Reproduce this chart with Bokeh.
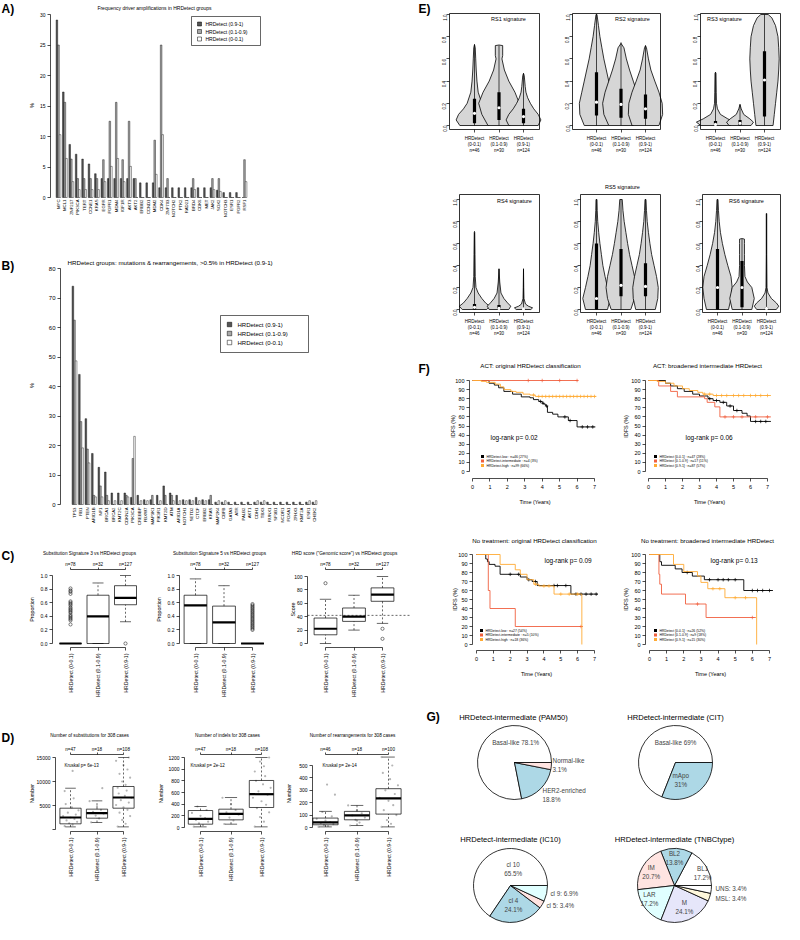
import math
from bokeh.plotting import figure
from bokeh.layouts import row, column
from bokeh.models import Range1d, FixedTicker, Label, PrintfTickFormatter, LinearAxis
from bokeh.embed import file_html
from bokeh.resources import INLINE

FONT = "Liberation Sans"

# ======================= DATA =======================
hr_legend = ["HRDetect (0.9-1)", "HRDetect (0.1-0.9)", "HRDetect (0-0.1)"]

# Panel A: driver amplifications (% of cases)
amp_genes = ["MYC", "MCL1", "ZNF217", "PIK3CA", "TERT", "CCNE1", "KRAS", "EGFR",
             "FGFR1", "MDM4", "IGF1R", "AKT3", "AKT2", "ERBB2", "CCND1", "MDM2",
             "CDK4", "ZNF703", "NOTCH2", "PTK2", "RAD21", "BRD4", "CDK6", "MET",
             "JAK2", "SOX2", "NOTCH3", "ESR1", "FGFR2", "RSF1"]
amp_high = [29.1, 17.3, 8.7, 7.1, 6.3, 5.5, 3.9, 3.1, 3.1, 3.1, 3.1, 3.1, 3.1, 2.4, 2.4,
            2.4, 1.6, 1.6, 1.6, 1.6, 1.6, 1.6, 1.6, 1.6, 1.6, 1.2, 0.8, 0.8, 0.8, 0.0]
amp_mid = [25.0, 15.6, 6.3, 3.1, 3.1, 3.1, 3.1, 6.2, 12.5, 15.6, 6.2, 12.5, 3.1, 0, 0,
           9.4, 25.0, 3.1, 0, 0, 0, 3.1, 0, 0, 3.1, 3.1, 0, 0, 0, 6.2]
amp_low = [10.3, 6.4, 2.6, 1.3, 1.3, 1.3, 1.3, 2.6, 5.1, 6.4, 2.6, 5.1, 0, 0, 0,
           3.8, 10.3, 0, 0, 0, 0, 1.3, 0, 0, 1.3, 1.0, 0, 0, 0, 2.6]
a_yticks = [0, 5, 10, 15, 20, 25, 30]

# Panel B: mutations & rearrangements (% of cases)
mut_genes = ["TP53", "RB1", "PTEN", "ARID1B", "NF1", "BRCA1", "BRCA2", "KMT2C", "CDKN2A",
             "PIK3CA", "CREBBP", "FBXW7", "MAP3K1", "PIK3R1", "KMT2D", "ATM", "ARID1A",
             "NOTCH1", "SETD2", "CTCF", "ERBB2", "KRAS", "MAP2K4", "CBFB", "GATA3", "ATR",
             "PALB2", "AKT1", "CDH1", "TBX3", "RUNX1", "SF3B1", "NCOR1", "FOXA1", "ZFHX3",
             "KMT2A", "ESR1", "CHEK2"]
mut_high = [74.0, 44.1, 29.1, 17.3, 12.6, 11.0, 3.9, 3.9, 3.9, 2.4,
            3.1, 1.6, 1.6, 3.1, 6.3, 3.9, 3.1, 1.6, 1.6, 2.4,
            1.6, 1.6, 0.8, 0.8, 0.8, 0.8, 0.8, 0.8, 0.8, 0.8,
            0.8, 0.8, 0.8, 0.8, 0.8, 0.8, 0.8, 0.8]
mut_mid = [62.5, 28.1, 18.8, 3.1, 6.3, 3.1, 0, 0, 3.1, 15.6,
           0, 0, 3.1, 0, 3.1, 3.1, 0, 0, 0, 0,
           0, 3.1, 0, 0, 0, 0, 0, 0, 0, 0,
           0, 0, 0, 0, 0, 0, 0, 0]
mut_low = [48.7, 19.2, 14.1, 2.6, 2.6, 1.3, 1.3, 1.3, 2.6, 23.1,
           1.3, 1.3, 0, 1.3, 0, 1.3, 1.3, 1.3, 1.3, 1.3,
           1.3, 0, 1.3, 1.3, 0, 0, 0, 0, 1.3, 1.3,
           0, 0, 0, 0, 0, 0, 1.3, 1.3]
b_yticks = [0, 10, 20, 30, 40, 50, 60, 70, 80]

# Panels C/D: box plots per HRDetect group
box_groups = ["HRDetect (0-0.1)", "HRDetect (0.1-0.9)", "HRDetect (0.9-1)"]
c_counts = ["n=78", "n=32", "n=127"]
c_titles = ["Substitution Signature 3 vs HRDetect groups",
            "Substitution Signature 5 vs HRDetect groups",
            "HRD score (\"Genomic score\") vs HRDetect groups"]
c_ylabels = ["Proportion", "Proportion", "Score"]
prop_ticks = [0.0, 0.2, 0.4, 0.6, 0.8, 1.0]
score_ticks = [0, 20, 40, 60, 80, 100]
sig3_q1 = [0.0, 0.0, 0.57]
sig3_med = [0.0, 0.40, 0.67]
sig3_q3 = [0.0, 0.71, 0.85]
sig3_lo = [0.0, 0.0, 0.32]
sig3_hi = [0.0, 0.89, 1.0]
sig3_out_g = [1] * 19 + [3]
sig3_out_v = [0.81, 0.78, 0.76, 0.73, 0.62, 0.60, 0.58, 0.56, 0.53, 0.51, 0.49, 0.47,
              0.45, 0.42, 0.40, 0.38, 0.36, 0.34, 0.28, 0.0]
sig5_q1 = [0.0, 0.0, 0.0]
sig5_med = [0.56, 0.31, 0.0]
sig5_q3 = [0.71, 0.55, 0.0]
sig5_lo = [0.0, 0.0, 0.0]
sig5_hi = [0.95, 0.85, 0.0]
sig5_out_g = [3] * 20
sig5_out_v = [0.58, 0.56, 0.54, 0.52, 0.50, 0.48, 0.46, 0.44, 0.42, 0.40, 0.38, 0.36,
              0.34, 0.32, 0.30, 0.28, 0.26, 0.24, 0.22, 0.20]
hrd_q1 = [13, 33, 63]
hrd_med = [22, 40, 73]
hrd_q3 = [38, 53, 83]
hrd_lo = [0, 20, 30]
hrd_hi = [66, 72, 100]
hrd_out_g = [1, 3, 3]
hrd_out_v = [90, 22, 7]
hrd_cutoff = 42

d_counts = [["n=47", "n=18", "n=108"], ["n=47", "n=18", "n=108"], ["n=46", "n=18", "n=100"]]
d_titles = ["Number of substitutions for 308 cases", "Number of indels for 308 cases",
            "Number of rearrangements for 308 cases"]
d_pvals = ["Kruskal p= 6e-13", "Kruskal p= 2e-12", "Kruskal p= 2e-14"]
d_ticks = [[0, 5000, 10000, 15000], [0, 200, 400, 600, 800, 1000, 1200], [0, 100, 200, 300, 400, 500]]
d_tick_labels = [["", "5000", "10000", "15000"], ["0", "200", "400", "600", "800", "1000", "1200"],
                 ["0", "100", "200", "300", "400", "500"]]
subs_q1 = [1180, 2360, 4440]
subs_med = [2500, 3400, 6670]
subs_q3 = [4440, 4240, 8960]
subs_lo = [550, 1460, 550]
subs_hi = [8600, 5970, 15000]
subs_pts = [[700, 1000, 1300, 1600, 1900, 2200, 2500, 2800, 3100, 3500, 4000, 4600, 5300, 6500, 8000, 12200],
            [1500, 2300, 2900, 3300, 3700, 4100, 4800, 5900, 8600],
            [600, 1200, 2000, 2800, 3500, 4100, 4600, 5100, 5600, 6100, 6600, 7000, 7500, 8100, 8700,
             9300, 10000, 10800, 11600, 12500, 13400, 14300, 15000]]
indel_q1 = [57, 131, 343]
indel_med = [149, 234, 571]
indel_q3 = [291, 314, 806]
indel_lo = [11, 57, 11]
indel_hi = [360, 514, 1200]
indel_pts = [[15, 40, 70, 100, 130, 160, 200, 250, 300, 360],
             [60, 120, 170, 220, 260, 300, 400, 510],
             [15, 100, 180, 260, 330, 390, 450, 510, 560, 620, 680, 740, 800, 880, 960, 1050, 1130, 1200]]
rearr_q1 = [22, 62, 108]
rearr_med = [41, 97, 235]
rearr_q3 = [76, 130, 313]
rearr_lo = [5, 16, 5]
rearr_hi = [130, 178, 568]
rearr_pts = [[5, 12, 20, 28, 36, 44, 55, 70, 90, 125, 265, 346],
             [16, 40, 62, 80, 97, 115, 140, 178],
             [5, 30, 60, 100, 140, 180, 215, 240, 270, 300, 340, 390, 440, 500, 568]]

# Panel E: violin plots of rearrangement signatures
e_titles = ["RS1 signature", "RS2 signature", "RS3 signature",
            "RS4 signature", "RS5 signature", "RS6 signature"]
e_xlabels = ["HRDetect\n(0-0.1)\nn=46", "HRDetect\n(0.1-0.9)\nn=30", "HRDetect\n(0.9-1)\nn=124"]
grid11 = [0, 0.1, 0.2, 0.3, 0.4, 0.5, 0.6, 0.7, 0.8, 0.9, 1.0]
rs1_y = [[0, 0.05, 0.1, 0.15, 0.2, 0.3, 0.4, 0.5, 0.6, 0.7, 0.73],
         [0, 0.1, 0.2, 0.3, 0.4, 0.5, 0.6, 0.63, 0.72, 0.725],
         [0, 0.05, 0.1, 0.15, 0.2, 0.25, 0.3, 0.35, 0.45, 0.47]]
rs1_w = [[0.6, 0.75, 0.65, 0.45, 0.3, 0.15, 0.1, 0.07, 0.05, 0.03, 0],
         [0.45, 0.7, 0.83, 0.65, 0.4, 0.22, 0.12, 0.15, 0.15, 0],
         [0.6, 0.71, 0.6, 0.42, 0.28, 0.17, 0.1, 0.07, 0.03, 0]]
rs1_stats = dict(q1=[0.02, 0.05, 0.02], med=[0.11, 0.16, 0.08], q3=[0.24, 0.30, 0.15], hi=[0.73, 0.72, 0.47])
rs2_y = [grid11, [0, 0.1, 0.2, 0.3, 0.4, 0.5, 0.6, 0.7, 0.74], [0, 0.1, 0.2, 0.3, 0.4, 0.5, 0.6, 0.7, 0.72]]
rs2_w = [[0.5, 0.68, 0.7, 0.6, 0.5, 0.4, 0.3, 0.22, 0.14, 0.08, 0.02],
         [0.5, 0.7, 0.75, 0.65, 0.5, 0.35, 0.22, 0.12, 0],
         [0.55, 0.7, 0.68, 0.55, 0.38, 0.22, 0.12, 0.04, 0]]
rs2_stats = dict(q1=[0.09, 0.07, 0.06], med=[0.21, 0.19, 0.15], q3=[0.48, 0.33, 0.28], hi=[1.0, 0.75, 0.72])
rs3_y = [[0, 0.03, 0.06, 0.1, 0.15, 0.2, 0.3, 0.47, 0.48],
         [0, 0.03, 0.06, 0.1, 0.15, 0.19],
         [0, 0.1, 0.2, 0.3, 0.4, 0.5, 0.6, 0.7, 0.8, 0.9, 0.97, 1.0]]
rs3_w = [[0.6, 0.78, 0.5, 0.2, 0.08, 0.04, 0.03, 0.02, 0],
         [0.45, 0.55, 0.4, 0.15, 0.05, 0],
         [0.35, 0.4, 0.45, 0.5, 0.55, 0.58, 0.6, 0.58, 0.55, 0.45, 0.3, 0.15]]
rs3_stats = dict(q1=[0.0, 0.0, 0.08], med=[0.01, 0.02, 0.41], q3=[0.04, 0.05, 0.67], hi=[0.48, 0.19, 1.0])
rs4_y = [[0, 0.03, 0.06, 0.1, 0.15, 0.2, 0.3, 0.5, 0.7, 0.71],
         [0, 0.03, 0.06, 0.1, 0.15, 0.25, 0.37],
         [0, 0.015, 0.03, 0.05, 0.1, 0.2, 0.37]]
rs4_w = [[0.5, 0.62, 0.45, 0.3, 0.15, 0.06, 0.03, 0.02, 0.01, 0],
         [0.4, 0.48, 0.35, 0.2, 0.08, 0.03, 0],
         [0.3, 0.37, 0.2, 0.08, 0.02, 0.01, 0]]
rs4_stats = dict(q1=[0.0, 0.0, 0.0], med=[0.02, 0.01, 0.005], q3=[0.05, 0.04, 0.01], hi=[0.7, 0.37, 0.37])
rs5_y = [grid11, grid11, grid11]
rs5_w = [[0.45, 0.56, 0.45, 0.35, 0.26, 0.2, 0.14, 0.09, 0.05, 0.03, 0.02],
         [0.4, 0.55, 0.61, 0.55, 0.45, 0.35, 0.27, 0.2, 0.13, 0.08, 0.05],
         [0.4, 0.5, 0.52, 0.45, 0.35, 0.25, 0.18, 0.12, 0.07, 0.04, 0.02]]
rs5_stats = dict(q1=[0.0, 0.12, 0.12], med=[0.1, 0.22, 0.21], q3=[0.6, 0.55, 0.42], hi=[1.0, 1.0, 1.0])
rs6_y = [grid11, [0, 0.1, 0.2, 0.25, 0.3, 0.4, 0.5, 0.6, 0.64, 0.645],
         [0, 0.03, 0.06, 0.1, 0.15, 0.2, 0.5, 0.87, 0.875]]
rs6_w = [[0.45, 0.55, 0.6, 0.55, 0.42, 0.3, 0.2, 0.12, 0.07, 0.04, 0.02],
         [0.4, 0.5, 0.4, 0.22, 0.12, 0.1, 0.1, 0.1, 0.1, 0],
         [0.4, 0.5, 0.4, 0.2, 0.06, 0.02, 0.01, 0.01, 0]]
rs6_stats = dict(q1=[0.0, 0.02, 0.0], med=[0.2, 0.2, 0.01], q3=[0.55, 0.44, 0.02], hi=[1.0, 0.64, 0.87])

# Panel F: Kaplan-Meier IDFS curves
km_years = [0, 1, 2, 3, 4, 5, 6, 7]
km_pct = [0, 10, 20, 30, 40, 50, 60, 70, 80, 90, 100]
f_titles = ["ACT: original HRDetect classification", "ACT: broadened intermediate HRDetect",
            "No treatment: original HRDetect classification", "No treatment: broadened intermediate HRDetect"]
f_pvals = ["log-rank p= 0.02", "log-rank p= 0.06", "log-rank p= 0.09", "log-rank p= 0.13"]
f_legends = [["HRDetect-low : n=46 (27%)", "HRDetect-intermediate : n=4 (3%)", "HRDetect-high : n=99 (66%)"],
             ["HRDetect [0-0.1] : n=47 (28%)", "HRDetect [0.1-0.9] : n=17 (11%)", "HRDetect [0.9-1] : n=87 (57%)"],
             ["HRDetect-low : n=27 (54%)", "HRDetect-intermediate : n=5 (10%)", "HRDetect-high : n=18 (36%)"],
             ["HRDetect [0-0.1] : n=26 (52%)", "HRDetect [0.1-0.9] : n=9 (18%)", "HRDetect [0.9-1] : n=15 (30%)"]]
f1_low_t = [0, 0.95, 1.25, 1.5, 1.8, 2.3, 2.8, 3.3, 3.5, 3.8, 4.0, 4.1, 4.2, 4.3, 4.6, 4.9, 5.5, 6.0, 7.05]
f1_low_s = [100, 97, 95, 92, 88, 85, 82, 81, 79, 77, 75, 74, 72, 65, 63, 60, 56, 49, 49]
f1_low_c = [3.9, 4.05, 4.25, 5.3, 5.6, 6.3, 6.6, 6.9]
f1_mid_t = [0, 6.05]
f1_mid_s = [100, 100]
f1_mid_c = [3.2, 4.0, 5.0, 6.0]
f1_high_t = [0, 0.5, 0.8, 1.3, 1.6, 1.8, 2.2, 2.5, 2.9, 3.3, 3.6, 7.1]
f1_high_s = [100, 99, 98, 96, 93, 90, 88, 87, 85, 84, 82.5, 82.5]
f1_high_c = [3.5, 3.8, 4.0, 4.2, 4.4, 4.6, 4.8, 5.0, 5.2, 5.4, 5.6, 5.8, 6.0, 6.2, 6.4, 6.6, 6.8, 7.0]
f2_low_t = [0, 1.0, 1.3, 1.7, 2.1, 2.6, 3.0, 3.5, 3.8, 4.2, 4.6, 5.0, 5.5, 5.8, 6.0, 7.2]
f2_low_s = [100, 97, 94, 91, 88, 85, 83, 80, 78, 76, 72, 67, 64, 61, 55, 55]
f2_low_c = [3.6, 4.0, 4.4, 4.8, 5.2, 6.3, 6.6, 6.9]
f2_mid_t = [0, 0.6, 1.3, 1.7, 3.3, 3.45, 3.9, 4.2, 7.2]
f2_mid_s = [100, 94, 88, 82, 80, 76, 71, 60, 60]
f2_mid_c = [4.5, 5.0, 5.5, 6.3, 7.0]
f2_high_t = [0, 0.5, 1.0, 1.5, 2.0, 2.4, 2.9, 3.2, 3.8, 7.2]
f2_high_s = [100, 99, 97, 94, 91, 89, 87, 85, 83.5, 83.5]
f2_high_c = [3.3, 3.6, 4.0, 4.3, 4.6, 5.0, 5.3, 5.6, 6.0, 6.3, 6.6, 7.0]
f3_low_t = [0, 0.55, 0.65, 0.75, 1.1, 1.4, 2.6, 3.0, 3.3, 3.6, 5.6, 7.2]
f3_low_s = [100, 95, 92, 89, 87, 78, 75, 72, 70, 65.5, 56, 56]
f3_low_c = [2.0, 2.5, 3.1, 3.5, 4.6, 4.8, 5.3, 5.9, 6.2, 6.5, 6.8, 7.1]
f3_mid_t = [0, 0.7, 0.8, 2.3, 6.3]
f3_mid_s = [100, 60, 40, 20, 20]
f3_mid_c = [6.2]
f3_high_t = [0, 1.4, 2.3, 2.6, 3.0, 3.4, 3.7, 4.6, 6.25]
f3_high_s = [100, 89, 83, 78, 72, 67, 65, 56, 0]
f3_high_c = [3.5, 4.0, 4.3, 5.0, 5.5, 6.0]
f4_low_t = [0, 0.6, 0.7, 1.5, 1.9, 2.5, 3.2, 5.5, 7.2]
f4_low_s = [100, 92, 88, 84, 80, 76, 72, 60, 60]
f4_low_c = [2.2, 3.5, 4.0, 4.3, 4.6, 5.0, 6.0, 6.3, 6.6, 7.0]
f4_mid_t = [0, 0.55, 0.6, 0.7, 2.1, 3.3, 6.2]
f4_mid_s = [100, 78, 67, 56, 45, 30, 30]
f4_mid_c = [2.8, 6.0]
f4_high_t = [0, 1.4, 2.0, 2.8, 3.0, 3.4, 4.4, 6.25]
f4_high_s = [100, 89, 81, 76, 69, 62, 52, 0]
f4_high_c = [3.7, 4.1, 5.0, 5.6]

# Panel G: subtype pies for HRDetect-intermediate
g_titles = ["HRDetect-intermediate (PAM50)", "HRDetect-intermediate (CIT)",
            "HRDetect-intermediate (IC10)", "HRDetect-intermediate (TNBCtype)"]
pam50_names = ["Basal-like", "HER2-enriched", "Normal-like"]
pam50_pct = [78.1, 18.8, 3.1]
cit_names = ["Basal-like", "mApo"]
cit_pct = [69, 31]
ic10_names = ["cl 10", "cl 4", "cl 5", "cl 9"]
ic10_pct = [65.5, 24.1, 3.4, 6.9]
tnbc_names = ["BL1", "BL2", "IM", "LAR", "M", "MSL", "UNS"]
tnbc_pct = [17.2, 13.8, 20.7, 17.2, 24.1, 3.4, 3.4]

# ======================= STYLE / LAYOUT =======================
BAR_COLS = ["#555555", "#a8a8a8", "#ffffff"]
KM_COLS = ["#000000", "#f0603f", "#ffaa33"]
PIE_COLS = ["white", "lightblue", "mistyrose", "lightcyan", "lavender", "cornsilk"]
JITTER = [-0.22, 0.08, -0.05, 0.25, -0.15, 0.15, 0.0, -0.28, 0.2, -0.1, 0.3, 0.05, -0.18, 0.12]


def rng(v0, p0, v1, p1, f0, f1):
    s = (p1 - p0) / (v1 - v0)
    a = v0 + (f0 - p0) / s
    b = v0 + (f1 - p0) / s
    return (min(a, b), max(a, b))


class Panel:
    """A figure whose frame fills its whole canvas; axes are placed with fixed_location."""

    def __init__(self, fig_box, plot_box, xr, yr):
        fx0, fy0, fx1, fy1 = fig_box
        bx0, by0, bx1, by1 = plot_box
        self.fx0, self.fy0 = fx0, fy0
        self.box = plot_box
        self.sx = (xr[1] - xr[0]) / (bx1 - bx0)
        self.sy = (yr[1] - yr[0]) / (by1 - by0)
        self.x0 = xr[0] - (bx0 - fx0) * self.sx
        self.y0 = yr[1] + (by0 - fy0) * self.sy
        p = figure(width=fx1 - fx0, height=fy1 - fy0,
                   x_range=Range1d(self.X(fx0), self.X(fx1)),
                   y_range=Range1d(self.Y(fy1), self.Y(fy0)),
                   min_border=0, min_border_left=0, min_border_right=0,
                   min_border_top=0, min_border_bottom=0,
                   x_axis_location=None, y_axis_location=None,
                   output_backend="svg", toolbar_location=None, tools="", title=None)
        p.grid.visible = False
        p.xgrid.grid_line_color = None
        p.ygrid.grid_line_color = None
        p.outline_line_color = None
        p.border_fill_color = None
        p.background_fill_color = None
        self.p = p

    def X(self, px):
        return self.x0 + (px - self.fx0) * self.sx

    def Y(self, py):
        return self.y0 - (py - self.fy0) * self.sy

    def axis(self, side, at_px):
        loc = self.X(at_px) if side in ("left", "right") else self.Y(at_px)
        ax = LinearAxis(fixed_location=loc)
        self.p.add_layout(ax, side)
        return ax

    def text(self, px, py, s, fs, align="left", base="middle", angle=0.0, bold=False, color="black"):
        self.p.add_layout(Label(x=self.X(px), y=self.Y(py), text=s, text_font=FONT,
                                text_font_size=f"{fs}px", text_align=align, text_baseline=base,
                                angle=angle, text_font_style="bold" if bold else "normal",
                                text_color=color))


def style_axis(ax, fs, tick_out=3, standoff=2, bounds=None, line=True, orient=None,
               ticks=None, labels=None, fmt=None):
    ax.axis_line_color = "black" if line else None
    ax.axis_line_width = 0.7
    ax.major_tick_line_color = "black" if line else None
    ax.major_tick_line_width = 0.7
    ax.major_tick_in = 0
    ax.major_tick_out = int(tick_out) if line else 0
    ax.minor_tick_line_color = None
    ax.major_label_text_font = FONT
    ax.major_label_text_font_size = f"{fs}px"
    ax.major_label_text_color = "black"
    ax.major_label_standoff = int(standoff)
    if bounds is not None:
        ax.bounds = bounds
    if orient is not None:
        ax.major_label_orientation = orient
    if ticks is not None:
        ax.ticker = FixedTicker(ticks=list(ticks))
    if labels is not None:
        ax.major_label_overrides = dict(zip(ticks, labels))
    if fmt is not None:
        ax.formatter = PrintfTickFormatter(format=fmt)


def grouped_bars(P, genes, series, yticks, y_fs):
    n = len(genes)
    for j, vals in enumerate(series):
        P.p.vbar(x=[4 * i + 1.5 + j for i in range(n)], top=vals, bottom=0, width=1,
                 fill_color=BAR_COLS[j], line_color="black", line_width=0.4)
    centers = [4 * i + 2.5 for i in range(n)]
    bx0, by0, bx1, by1 = P.box
    style_axis(P.axis("below", by1), 4.3, line=False, orient=math.pi / 2, standoff=2,
               ticks=centers, labels=genes)
    style_axis(P.axis("left", bx0), y_fs, bounds=(yticks[0], yticks[-1]), ticks=yticks)


def legend_box(P, box, labels, ys, sq_x, txt_x, sq, fs):
    x0, y0, x1, y1 = box
    P.p.quad(left=[P.X(x0)], right=[P.X(x1)], bottom=[P.Y(y1)], top=[P.Y(y0)],
             fill_color="white", line_color="black", line_width=0.6)
    P.p.quad(left=[P.X(sq_x - sq / 2)] * 3, right=[P.X(sq_x + sq / 2)] * 3,
             bottom=[P.Y(y + sq / 2) for y in ys], top=[P.Y(y - sq / 2) for y in ys],
             fill_color=BAR_COLS, line_color="black", line_width=0.5)
    for lab, y in zip(labels, ys):
        P.text(txt_x, y, lab, fs)


def boxplot(P, q1, med, q3, lo, hi, out_g, out_v, w=0.8, pt_size=3.2):
    xs = [i + 1 for i in range(len(q1))]
    p = P.p
    p.segment(x0=xs, y0=q3, x1=xs, y1=hi, line_color="black", line_width=0.6, line_dash="2 2")
    p.segment(x0=xs, y0=lo, x1=xs, y1=q1, line_color="black", line_width=0.6, line_dash="2 2")
    p.segment(x0=[x - w / 4 for x in xs], y0=hi, x1=[x + w / 4 for x in xs], y1=hi,
              line_color="black", line_width=0.6)
    p.segment(x0=[x - w / 4 for x in xs], y0=lo, x1=[x + w / 4 for x in xs], y1=lo,
              line_color="black", line_width=0.6)
    p.quad(left=[x - w / 2 for x in xs], right=[x + w / 2 for x in xs], bottom=q1, top=q3,
           fill_color="white", fill_alpha=0.0, line_color="black", line_width=0.7)
    p.segment(x0=[x - w / 2 for x in xs], y0=med, x1=[x + w / 2 for x in xs], y1=med,
              line_color="black", line_width=2.2)
    if out_g:
        p.scatter(x=out_g, y=out_v, marker="circle", size=pt_size, fill_color=None,
                  line_color="black", line_width=0.5)


def jitter_points(P, groups):
    xs, ys = [], []
    for g, vals in enumerate(groups):
        for k, v in enumerate(vals):
            xs.append(g + 1 + JITTER[k % len(JITTER)])
            ys.append(v)
    P.p.scatter(x=xs, y=ys, marker="circle", size=2.2, fill_color="#b5b5b5", line_color=None)


def box_panel(fig_box, plot_box, c1px, c3px, v_top, p_top, p_zero, ticks, fmt, counts, tlabels=None):
    px0, py0, px1, py1 = plot_box
    P = Panel(fig_box, plot_box, rng(1, c1px, 3, c3px, px0, px1),
              rng(0, p_zero, v_top, p_top, py0, py1))
    style_axis(P.axis("left", px0), 5, bounds=(0, v_top), ticks=ticks, fmt=fmt, labels=tlabels)
    style_axis(P.axis("below", py1), 5.2, bounds=(1, 3), orient=math.pi / 2, ticks=[1, 2, 3],
               labels=box_groups, standoff=3)
    style_axis(P.axis("above", py0), 4.6, bounds=(1, 3), ticks=[1, 2, 3], labels=counts,
               tick_out=2, standoff=1)
    return P


def violin_panel(P, ys, ws, st, title, tpos, ticks_fs=4.5):
    p = P.p
    bx0, by0, bx1, by1 = P.box
    for i in range(3):
        c = i + 1
        xs = [c + w for w in ws[i]] + [c - w for w in reversed(ws[i])]
        yy = list(ys[i]) + list(reversed(ys[i]))
        p.patch(xs, yy, fill_color="#d6d6d6", line_color="black", line_width=0.8)
    xs = [1, 2, 3]
    p.segment(x0=xs, y0=[0, 0, 0], x1=xs, y1=st["hi"], line_color="black", line_width=0.7)
    p.segment(x0=xs, y0=st["q1"], x1=xs, y1=st["q3"], line_color="black", line_width=3.2)
    p.scatter(x=xs, y=st["med"], marker="circle", size=3.2, fill_color="white", line_color=None)
    p.quad(left=[P.X(bx0)], right=[P.X(bx1)], bottom=[P.Y(by1)], top=[P.Y(by0)],
           fill_color=None, line_color="black", line_width=0.8)
    ya = P.axis("left", bx0)
    style_axis(ya, ticks_fs, ticks=prop_ticks, fmt="%.1f", orient=math.pi / 2, standoff=2)
    ya.axis_line_color = None
    xa = P.axis("below", by1)
    style_axis(xa, ticks_fs, ticks=[1, 2, 3], labels=e_xlabels, standoff=3)
    xa.axis_line_color = None
    P.text(tpos[0], tpos[1], title, 5.5, align="center")


def surv_at(t, s, c):
    v = s[0]
    for ti, si in zip(t, s):
        if ti <= c:
            v = si
    return v


def km_panel(P, curves, legend, pval, ppos, leg_ys, sq_x, title, tpos, ylab_x):
    p = P.p
    for (t, s, cens), col in zip(curves, KM_COLS):
        p.step(x=t, y=s, mode="after", line_color=col, line_width=0.9)
        p.scatter(x=cens, y=[surv_at(t, s, c) for c in cens], marker="cross", size=3.5,
                  line_color=col, line_width=0.7)
    x0, y0, x1, y1 = P.box
    style_axis(P.axis("left", x0), 5.5, bounds=(0, 100), ticks=km_pct, standoff=2)
    style_axis(P.axis("below", y1), 5.5, bounds=(0, 7), ticks=km_years, standoff=3)
    for lab, y, col in zip(legend, leg_ys, KM_COLS):
        p.scatter(x=[P.X(sq_x)], y=[P.Y(y)], marker="square", size=3, fill_color=col, line_color=None)
        P.text(sq_x + 4, y, lab, 3.4)
    P.text(ppos[0], ppos[1], pval, 6.5)
    P.text(tpos[0], tpos[1], title, 6.2, align="center")
    P.text(ylab_x, (y0 + y1) / 2 - 2, "IDFS (%)", 5.5, align="center", angle=math.pi / 2)
    P.text((x0 + x1) / 2 + 1, y1 + 23, "Time (Years)", 5.5, align="center")


def pie_panel(P, names, pcts, layout, title, tpos):
    tot = sum(pcts)
    starts, ends, acc = [], [], 0.0
    for v in pcts:
        starts.append(2 * math.pi * acc / tot)
        acc += v
        ends.append(2 * math.pi * acc / tot)
    n = len(pcts)
    P.p.wedge(x=[0] * n, y=[0] * n, radius=1, start_angle=starts, end_angle=ends,
              fill_color=[PIE_COLS[i % len(PIE_COLS)] for i in range(n)],
              line_color="black", line_width=0.8)
    for name, v, (dx, dy, align, sep) in zip(names, pcts, layout):
        pct = f"{v:g}%"
        lines = [name, pct] if sep == "\n" else [name + sep + pct]
        for k, ln in enumerate(lines):
            P.p.add_layout(Label(x=dx, y=dy - 0.25 * k, text=ln, text_font=FONT,
                                 text_font_size="6.3px", text_align=align,
                                 text_baseline="middle"))
    P.text(tpos[0], tpos[1], title, 7.6, align="center")


# ======================= BUILD =======================
# ---- A
A = Panel((8, 8, 418, 243), (58, 22, 300, 205),
          rng(2.5, 66, 4 * (len(amp_genes) - 1) + 2.5, 252, 58, 300),
          rng(0, 205, 30, 22, 22, 205))
grouped_bars(A, amp_genes, [amp_high, amp_mid, amp_low], a_yticks, 5)
A.text(9, 16, "A)", 12, bold=True)
A.text(162, 15, "Frequency driver amplifications in HRDetect groups", 5, align="center")
A.text(39, 113, "%", 5.5, align="center", angle=math.pi / 2)
legend_box(A, (199, 24, 268, 53), hr_legend, [31.5, 39, 46.5], 207, 213, 4, 5)

# ---- B
B = Panel((8, 243, 418, 552), (68, 274, 340, 513),
          rng(2.5, 82, 4 * (len(mut_genes) - 1) + 2.5, 322, 68, 340),
          rng(0, 512, 80, 276, 274, 513))
grouped_bars(B, mut_genes, [mut_high, mut_mid, mut_low], b_yticks, 6)
B.text(9, 273, "B)", 12, bold=True)
B.text(75, 270, "HRDetect groups: mutations & rearrangements, >0.5% in HRDetect (0.9-1)", 6.2)
B.text(39, 393, "%", 6, align="center", angle=math.pi / 2)
legend_box(B, (228, 323, 316, 360), hr_legend, [332, 341, 350], 237, 245, 4.5, 6)

# ---- C
C1 = box_panel((8, 552, 160, 738), (60, 577, 152, 655), 78, 133, 1, 583, 651, prop_ticks, "%.1f", c_counts)
C2 = box_panel((160, 552, 290, 738), (187, 577, 282, 655), 203, 260, 1, 583, 651, prop_ticks, "%.1f", c_counts)
C3 = box_panel((290, 552, 418, 738), (315, 577, 405, 655), 333, 390, 100, 584, 651, score_ticks, "%d", c_counts)
boxplot(C1, sig3_q1, sig3_med, sig3_q3, sig3_lo, sig3_hi, sig3_out_g, sig3_out_v)
boxplot(C2, sig5_q1, sig5_med, sig5_q3, sig5_lo, sig5_hi, sig5_out_g, sig5_out_v)
C3.p.segment(x0=[C3.X(315)], y0=[hrd_cutoff], x1=[C3.X(418)], y1=[hrd_cutoff],
             line_color="black", line_width=0.6, line_dash="2 2")
boxplot(C3, hrd_q1, hrd_med, hrd_q3, hrd_lo, hrd_hi, hrd_out_g, hrd_out_v)
C1.text(9, 563, "C)", 12, bold=True)
for P, t, yl, tx, ylx in zip([C1, C2, C3], c_titles, c_ylabels, [97, 227, 352], [39, 166, 300]):
    P.text(tx, 561, t, 4.7, align="center")
    P.text(ylx, 617, yl, 5.3, align="center", angle=math.pi / 2)

# ---- D
D1 = box_panel((8, 738, 160, 932), (63, 762, 152, 839), 78, 131, 15000, 765, 837, d_ticks[0], "%d", d_counts[0], d_tick_labels[0])
D2 = box_panel((160, 738, 290, 932), (192, 762, 285, 839), 208, 269, 1200, 765, 835, d_ticks[1], "%d", d_counts[1], d_tick_labels[1])
D3 = box_panel((290, 738, 418, 932), (320, 762, 411, 839), 333, 396, 500, 773, 835, d_ticks[2], "%d", d_counts[2], d_tick_labels[2])
jitter_points(D1, subs_pts)
jitter_points(D2, indel_pts)
jitter_points(D3, rearr_pts)
boxplot(D1, subs_q1, subs_med, subs_q3, subs_lo, subs_hi, [], [])
boxplot(D2, indel_q1, indel_med, indel_q3, indel_lo, indel_hi, [], [])
boxplot(D3, rearr_q1, rearr_med, rearr_q3, rearr_lo, rearr_hi, [], [])
D1.text(9, 745, "D)", 12, bold=True)
for P, t, pv, tx, ylx, x0 in zip([D1, D2, D3], d_titles, d_pvals, [97, 235, 360], [39, 168, 296], [72, 198, 330]):
    P.text(tx, 743, t, 4.7, align="center")
    P.text(ylx, 801, "Number", 5.3, align="center", angle=math.pi / 2)
    P.text(x0, 773, pv, 4.5)

# ---- E
E_PX = 24.5
def e_panel(fig_box, plot_box, c1px, p0, p1):
    px0, py0, px1, py1 = plot_box
    return Panel(fig_box, plot_box, rng(1, c1px, 2, c1px + E_PX, px0, px1),
                 rng(0, p0, 1, p1, py0, py1))

E1 = e_panel((418, 8, 560, 168), (457, 21, 547, 137), 482, 133, 22)
E2 = e_panel((560, 8, 690, 168), (580, 21, 668, 137), 604, 133, 22)
E3 = e_panel((690, 8, 792, 168), (708, 21, 788, 137), 723, 133, 22)
E4 = e_panel((418, 168, 560, 346), (467, 202, 547, 320), 482, 317, 207)
E5 = e_panel((560, 168, 690, 346), (588, 202, 668, 320), 604, 317, 207)
E6 = e_panel((690, 168, 792, 346), (710, 202, 788, 320), 725, 317, 207)
violin_panel(E1, rs1_y, rs1_w, rs1_stats, e_titles[0], (516, 26))
violin_panel(E2, rs2_y, rs2_w, rs2_stats, e_titles[1], (640, 26))
violin_panel(E3, rs3_y, rs3_w, rs3_stats, e_titles[2], (732, 26))
violin_panel(E4, rs4_y, rs4_w, rs4_stats, e_titles[3], (522, 208))
violin_panel(E5, rs5_y, rs5_w, rs5_stats, e_titles[4], (630, 194))
violin_panel(E6, rs6_y, rs6_w, rs6_stats, e_titles[5], (754, 208))
E1.text(426, 16, "E)", 12, bold=True)

# ---- F
F1 = Panel((418, 346, 620, 515), (477, 386, 606, 486), rng(0, 480, 7, 602, 477, 606), rng(0, 479, 100, 388, 386, 486))
F2 = Panel((620, 346, 792, 515), (653, 386, 779, 486), rng(0, 656, 7, 775, 653, 779), rng(0, 479, 100, 388, 386, 486))
F3 = Panel((418, 515, 620, 690), (480, 560, 606, 658), rng(0, 484, 7, 602, 480, 606), rng(0, 652, 100, 562, 560, 658))
F4 = Panel((620, 515, 792, 690), (653, 560, 781, 658), rng(0, 657, 7, 777, 653, 781), rng(0, 652, 100, 562, 560, 658))
km_panel(F1, [(f1_low_t, f1_low_s, f1_low_c), (f1_mid_t, f1_mid_s, f1_mid_c), (f1_high_t, f1_high_s, f1_high_c)],
         f_legends[0], f_pvals[0], (498, 445), [464, 468.5, 473], 490, f_titles[0], (538, 373), 460)
km_panel(F2, [(f2_low_t, f2_low_s, f2_low_c), (f2_mid_t, f2_mid_s, f2_mid_c), (f2_high_t, f2_high_s, f2_high_c)],
         f_legends[1], f_pvals[1], (693, 445), [464, 468.5, 473], 663, f_titles[1], (715, 373), 633)
km_panel(F3, [(f3_low_t, f3_low_s, f3_low_c), (f3_mid_t, f3_mid_s, f3_mid_c), (f3_high_t, f3_high_s, f3_high_c)],
         f_legends[2], f_pvals[2], (552, 568), [638, 642.5, 647], 489, f_titles[2], (542, 548), 462)
km_panel(F4, [(f4_low_t, f4_low_s, f4_low_c), (f4_mid_t, f4_mid_s, f4_mid_c), (f4_high_t, f4_high_s, f4_high_c)],
         f_legends[3], f_pvals[3], (718, 568), [638, 642.5, 647], 663, f_titles[3], (715, 548), 633)
F1.text(426, 376, "F)", 12, bold=True)

# ---- G
R = 37.0
def g_panel(fig_box, cx, cy):
    fx0, fy0, fx1, fy1 = fig_box
    return Panel(fig_box, fig_box, rng(0, cx, 1, cx + R, fx0, fx1), rng(0, cy, 1, cy - R, fy0, fy1))

G1 = g_panel((418, 690, 602, 815), 522, 770)
G2 = g_panel((602, 690, 792, 815), 683, 770)
G3 = g_panel((418, 815, 602, 932), 518, 893)
G4 = g_panel((602, 815, 792, 932), 682, 893)
pam50_layout = [(0.03, 0.54, "center", " "), (0.76, -0.76, "left", "\n"), (1.03, 0.06, "left", "\n")]
cit_layout = [(0.0, 0.54, "center", " "), (0.14, -0.35, "center", "\n")]
ic10_layout = [(0.07, 0.57, "center", "\n"), (0.08, -0.41, "center", "\n"),
               (0.97, -0.54, "left", ": "), (1.08, -0.22, "left", ": ")]
tnbc_layout = [(0.76, 0.46, "center", "\n"), (0.0, 0.86, "center", "\n"), (-0.63, 0.49, "center", "\n"),
               (-0.68, -0.24, "center", "\n"), (0.27, -0.46, "center", "\n"),
               (1.11, -0.35, "left", ": "), (1.11, -0.08, "left", ": ")]
pie_panel(G1, pam50_names, pam50_pct, pam50_layout, g_titles[0], (521, 725))
pie_panel(G2, cit_names, cit_pct, cit_layout, g_titles[1], (683, 725))
pie_panel(G3, ic10_names, ic10_pct, ic10_layout, g_titles[2], (518, 847))
pie_panel(G4, tnbc_names, tnbc_pct, tnbc_layout, g_titles[3], (682, 847))
G1.text(434, 724, "G)", 12, bold=True)

left = column(A.p, B.p, row(C1.p, C2.p, C3.p), row(D1.p, D2.p, D3.p))
right = column(row(E1.p, E2.p, E3.p), row(E4.p, E5.p, E6.p), row(F1.p, F2.p), row(F3.p, F4.p),
               row(G1.p, G2.p), row(G3.p, G4.p))
layout = row(left, right)

open("out.html", "w").write(file_html(layout, INLINE))
